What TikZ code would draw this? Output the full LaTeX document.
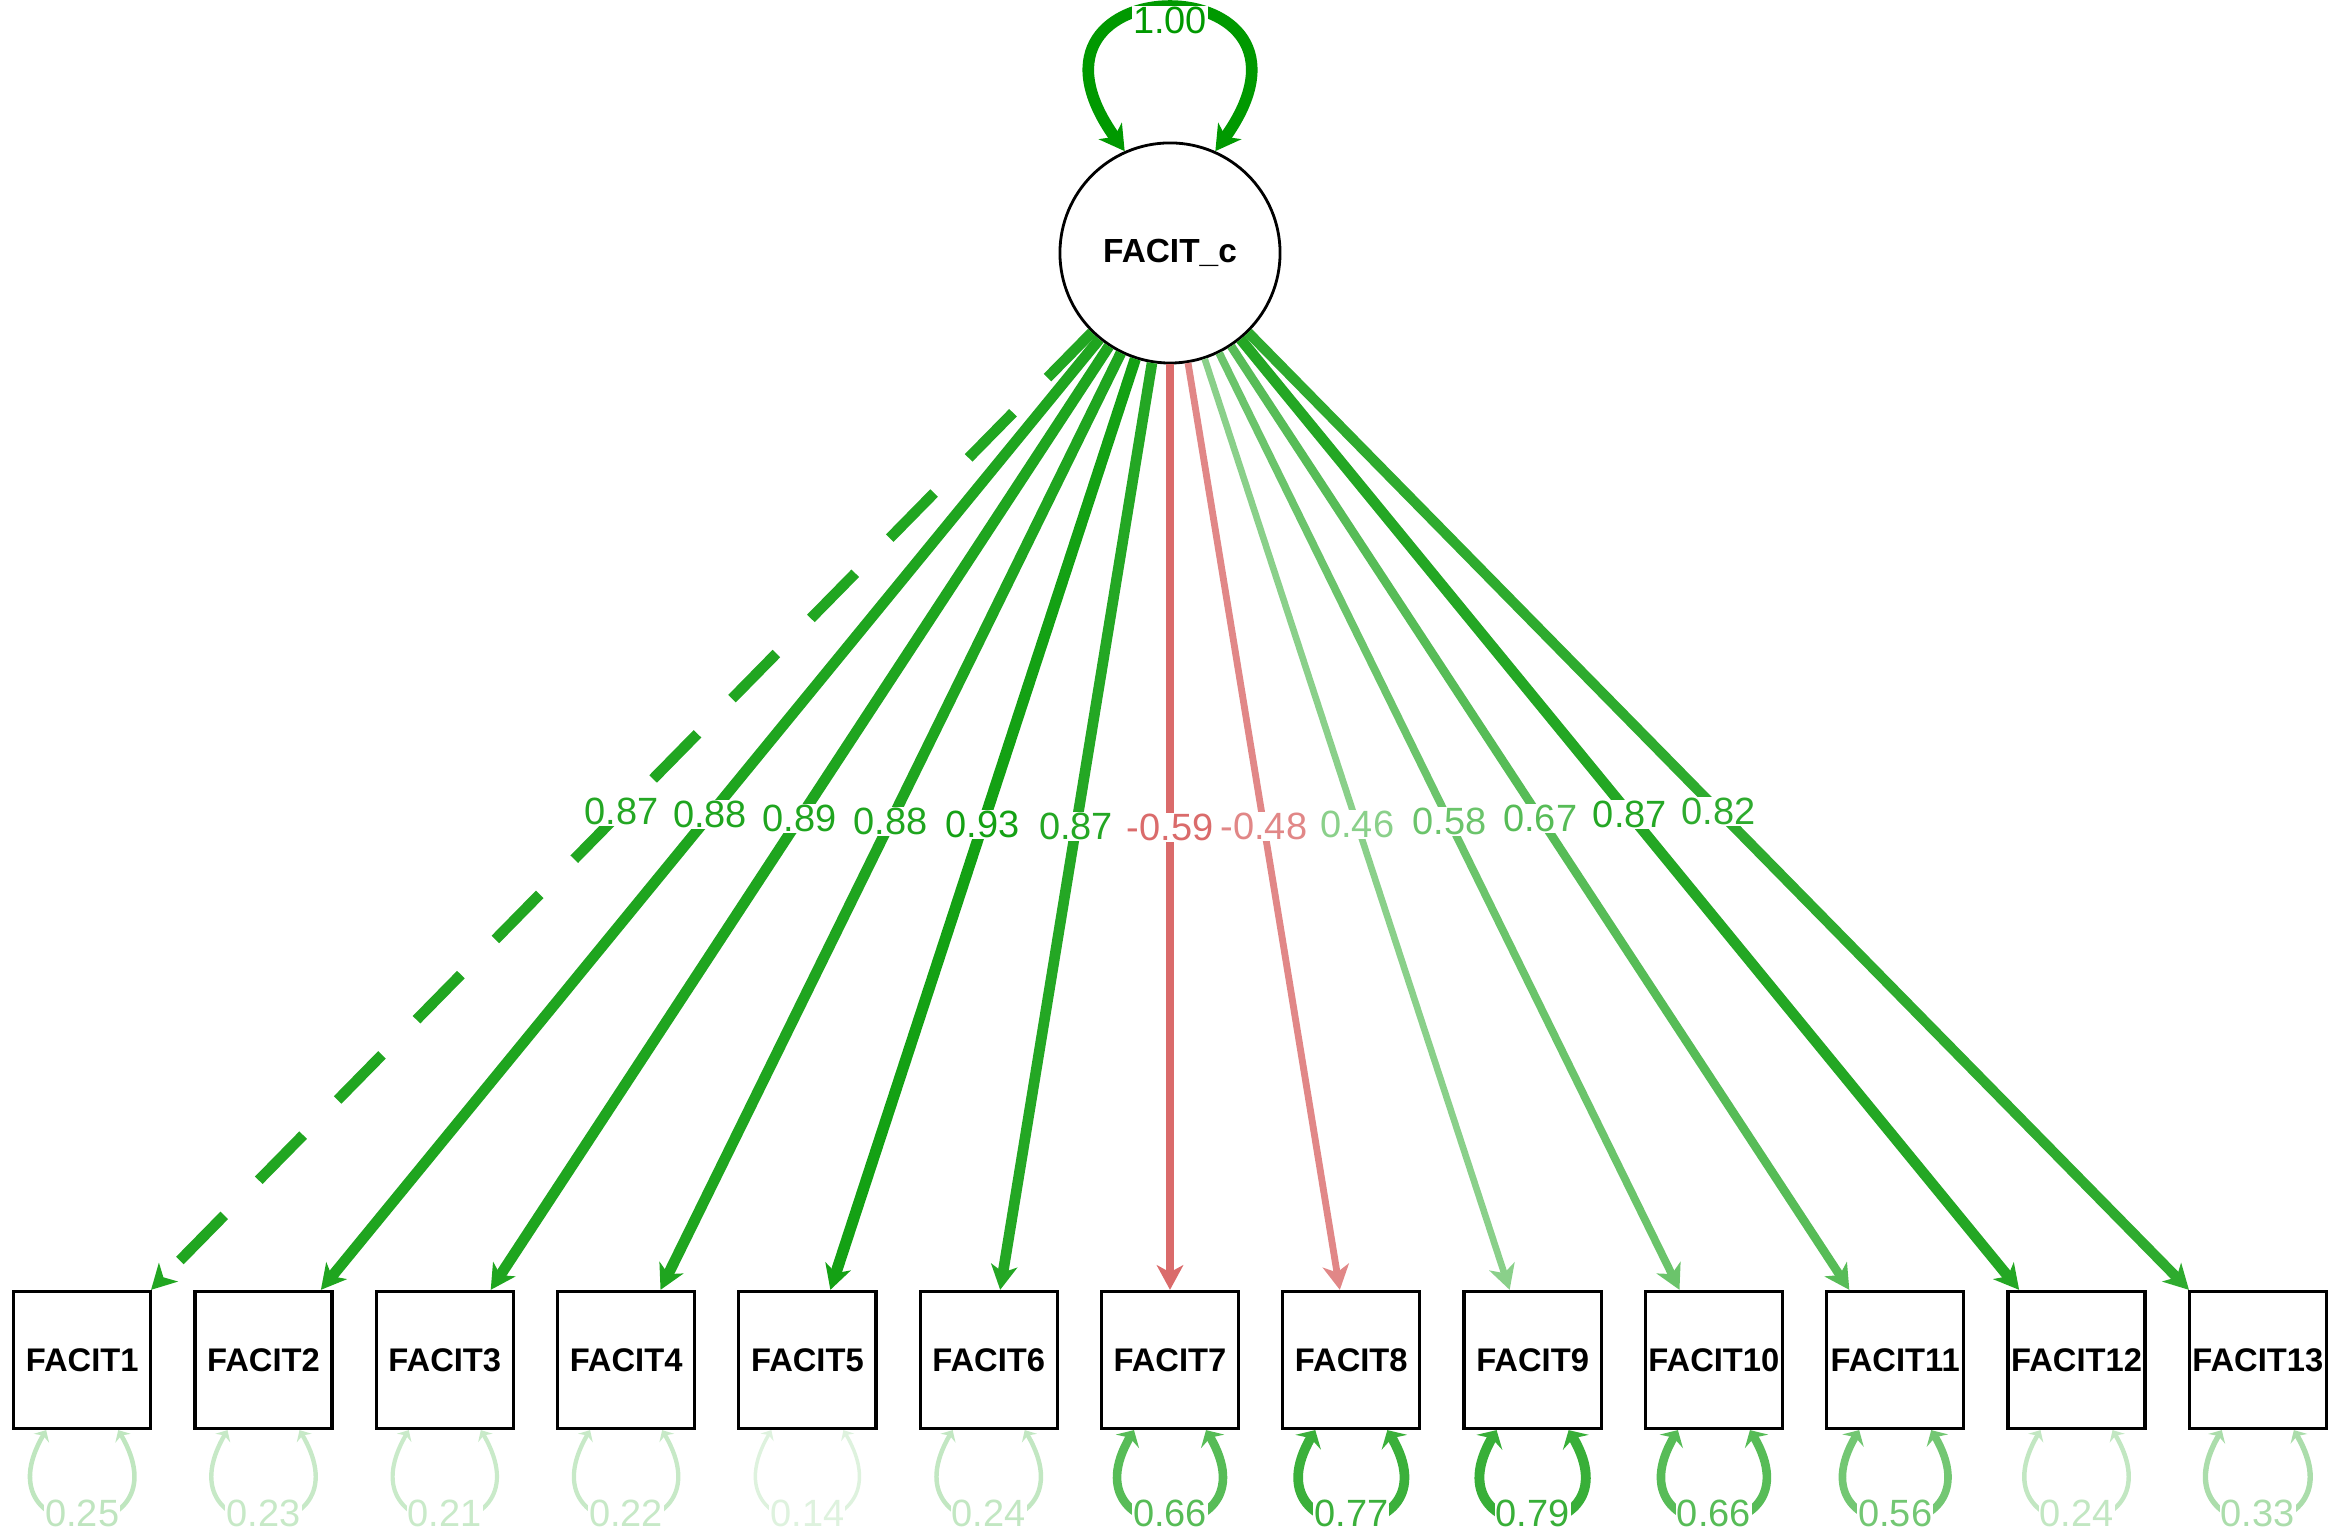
\documentclass[tikz,border=0pt]{standalone}
\usepackage{fontspec}
\setmainfont{Liberation Sans}
\usetikzlibrary{arrows.meta}
\definecolor{pg}{RGB}{0,153,0}
\definecolor{ng}{RGB}{191,0,0}
\begin{document}
\begin{tikzpicture}[x=0.01cm,y=0.01cm,
  obs/.style={draw=black,line width=0.9pt,minimum width=1.37cm,minimum height=1.37cm,inner sep=0pt,fill=white,font=\fontsize{9.3}{11}\selectfont\bfseries},
  lat/.style={circle,draw=black,line width=0.8pt,minimum size=2.2cm,inner sep=0pt,fill=white,font=\fontsize{9.5}{11}\selectfont\bfseries},
  lbl/.style={fill=white,inner sep=0.3pt,font=\fontsize{10.8}{12}\selectfont},
  loadtip/.style={-{Stealth[length=7pt,width=7.5pt,inset=2pt]}},
  restip/.style={{Stealth[length=1.5pt 0.9,width=2pt 2.3,inset=0.5pt 0.3]}-{Stealth[length=1.5pt 0.9,width=2pt 2.3,inset=0.5pt 0.3]}},
  vartip/.style={{Stealth[length=7pt,width=8pt,inset=2pt]}-{Stealth[length=7pt,width=8pt,inset=2pt]}},
  dashedge/.style={dash pattern=on 18pt off 14pt}]
\useasboundingbox (0,0) rectangle (2333,1540);
% latent
\node[lat] (c) at (1170,1287) {FACIT\_c};
% observed
\foreach \i in {1,...,13}
  \node[obs] (f\i) at ({1170+(\i-7)*181.3},180) {FACIT\i};
% variance loop of latent
\draw[vartip,line width=3.3pt,color=pg] (c.114) .. controls +(-1.35cm,1.89cm) and +(1.35cm,1.89cm) .. node[pos=0.5,yshift=-0.11cm,lbl,text=pg] (v0) {1.00} (c.66);
% loading edges
\pgfmathtruncatemacro\p{87}
\draw[loadtip,dashedge,line width={0.6pt+2.8pt*0.87},color=pg!\p!white] (c) -- (f1);
\foreach \i/\w/\c in {2/0.88/pg,3/0.89/pg,4/0.88/pg,5/0.93/pg,6/0.87/pg,7/0.59/ng,8/0.48/ng,9/0.46/pg,10/0.58/pg,11/0.67/pg,12/0.87/pg,13/0.82/pg}{
  \pgfmathtruncatemacro\p{100*\w}
  \draw[loadtip,line width={0.6pt+2.8pt*\w},color=\c!\p!white] (c) -- (f\i);
}
% loading labels
\foreach \i/\w/\c/\t in {1/0.87/pg/0.87,2/0.88/pg/0.88,3/0.89/pg/0.89,4/0.88/pg/0.88,5/0.93/pg/0.93,6/0.87/pg/0.87,7/0.59/ng/-0.59,8/0.48/ng/-0.48,9/0.46/pg/0.46,10/0.58/pg/0.58,11/0.67/pg/0.67,12/0.87/pg/0.87,13/0.82/pg/0.82}{
  \pgfmathtruncatemacro\p{100*\w}
  \path (c) -- node[midway,lbl,text=\c!\p!white] (l\i) {\t} (f\i);
}
% residual loops
\foreach \i/\w in {1/0.25,2/0.23,3/0.21,4/0.22,5/0.14,6/0.24,7/0.66,8/0.77,9/0.79,10/0.66,11/0.56,12/0.24,13/0.33}{
  \pgfmathtruncatemacro\p{100*\w}
  \draw[restip,line width={0.6pt+2.8pt*\w},color=pg!\p!white]
    ([xshift=-0.36cm]f\i.south) .. controls +(-0.7cm,-1.2cm) and +(0.7cm,-1.2cm) ..
    node[pos=0.5,yshift=0.07cm,lbl,text=pg!\p!white] (r\i) {\w} ([xshift=0.36cm]f\i.south);
}
\end{tikzpicture}
\end{document}
